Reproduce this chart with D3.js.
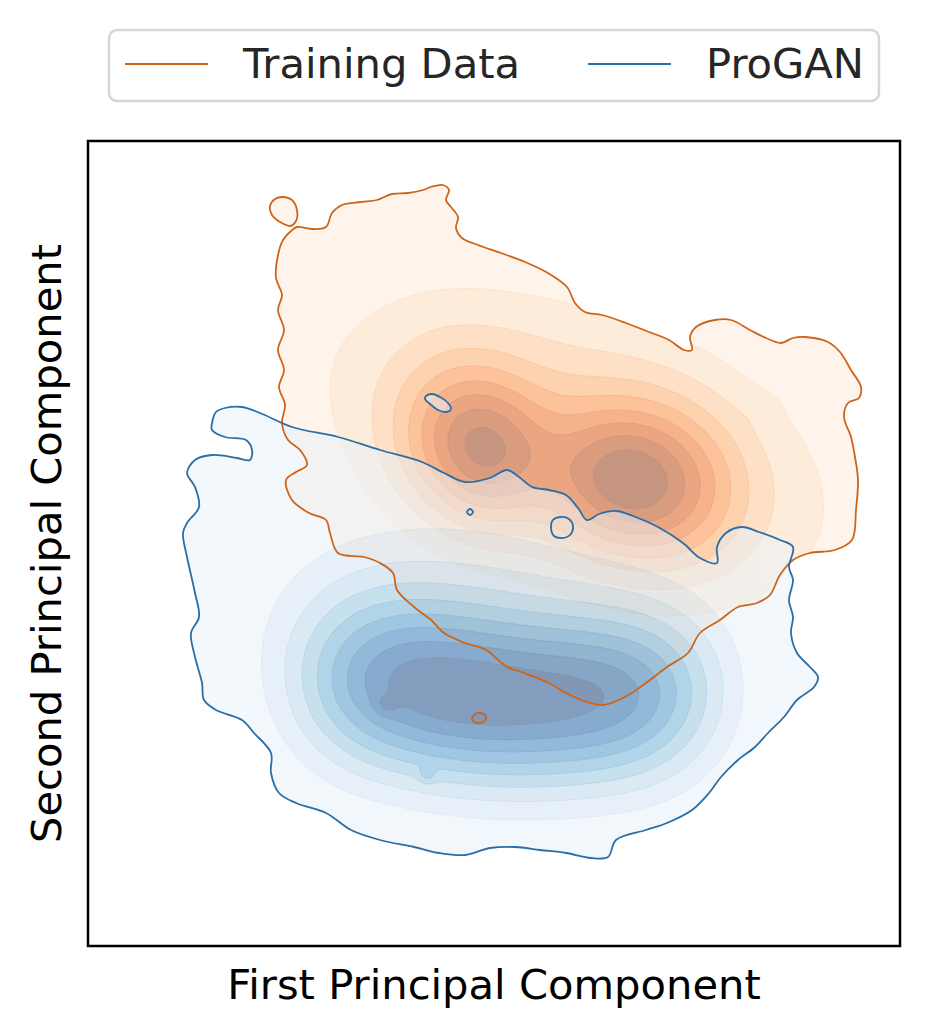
<!DOCTYPE html>
<html><head><meta charset="utf-8">
<script src="https://cdn.jsdelivr.net/npm/d3@7"></script>
<style>body{margin:0;background:#fff}svg{display:block}</style>
</head><body>
<script>
// ---------------- data ----------------
const seriesNames = ["Training Data", "ProGAN"];
const xLabel = "First Principal Component";
const yLabel = "Second Principal Component";
// iso-proportion levels (level 1 = outer outline)
const isoLevels = [0.05, 0.156, 0.261, 0.367, 0.472, 0.578, 0.683, 0.789, 0.894];

// outer density contour (threshold level), in PC units
const trainOutline = [[2.09,7.19],[2.24,7.17],[2.38,7.19],[2.44,7.33],[2.54,7.41],[2.73,7.44],[2.89,7.46],[3.04,7.52],[3.20,7.53],[3.35,7.56],[3.43,7.59],[3.55,7.61],[3.61,7.56],[3.58,7.46],[3.63,7.39],[3.70,7.29],[3.68,7.18],[3.74,7.08],[3.90,7.01],[4.13,6.93],[4.37,6.84],[4.60,6.73],[4.79,6.59],[4.87,6.43],[4.97,6.34],[5.14,6.31],[5.38,6.23],[5.61,6.14],[5.81,6.06],[5.96,5.96],[6.04,5.96],[6.02,6.09],[6.08,6.19],[6.27,6.26],[6.43,6.26],[6.62,6.16],[6.78,6.08],[6.93,6.03],[7.05,6.08],[7.17,6.09],[7.40,6.04],[7.52,5.94],[7.63,5.76],[7.73,5.59],[7.71,5.48],[7.60,5.43],[7.56,5.29],[7.63,5.09],[7.67,4.89],[7.70,4.66],[7.68,4.36],[7.64,4.06],[7.47,3.96],[7.22,3.93],[7.05,3.86],[6.92,3.71],[6.82,3.51],[6.69,3.43],[6.50,3.39],[6.32,3.26],[6.12,3.13],[6.00,2.93],[5.79,2.79],[5.58,2.63],[5.37,2.49],[5.15,2.41],[4.99,2.44],[4.78,2.53],[4.61,2.63],[4.36,2.73],[4.19,2.79],[3.98,2.96],[3.77,3.03],[3.56,3.13],[3.43,3.26],[3.26,3.39],[3.09,3.56],[3.05,3.73],[2.92,3.83],[2.76,3.89],[2.50,3.93],[2.42,4.13],[2.38,4.26],[2.21,4.33],[2.04,4.46],[1.98,4.66],[2.08,4.74],[2.19,4.81],[2.12,4.96],[2.00,5.06],[1.94,5.23],[1.97,5.41],[1.91,5.59],[1.96,5.76],[1.90,5.96],[1.96,6.16],[1.90,6.36],[1.94,6.51],[1.88,6.68],[1.90,6.91],[1.95,7.06],[2.03,7.15]];
const trainIslands = [
  [[1.95,7.49],[2.04,7.46],[2.09,7.36],[2.08,7.25],[2.02,7.20],[1.92,7.24],[1.84,7.31],[1.82,7.40],[1.87,7.47]],
  [[3.84,2.28],[3.87,2.32],[3.92,2.33],[3.97,2.31],[3.98,2.27],[3.95,2.24],[3.89,2.23],[3.85,2.25]]
];
const ganOutline = [[1.24,5.23],[1.28,5.34],[1.37,5.38],[1.54,5.39],[1.72,5.33],[2.04,5.19],[2.50,5.09],[2.92,4.96],[3.34,4.84],[3.56,4.73],[3.77,4.64],[4.02,4.68],[4.19,4.76],[4.31,4.69],[4.44,4.59],[4.61,4.56],[4.78,4.51],[4.90,4.38],[4.99,4.26],[5.11,4.32],[5.28,4.35],[5.45,4.30],[5.70,4.19],[5.95,4.03],[6.12,3.88],[6.29,3.83],[6.29,3.99],[6.38,4.13],[6.54,4.19],[6.71,4.14],[6.92,4.06],[7.05,3.99],[7.01,3.79],[7.05,3.66],[7.01,3.46],[7.05,3.29],[7.03,3.13],[7.09,2.93],[7.22,2.79],[7.30,2.69],[7.26,2.59],[7.09,2.46],[6.96,2.29],[6.80,2.13],[6.67,1.99],[6.50,1.86],[6.33,1.69],[6.21,1.53],[6.04,1.36],[5.79,1.23],[5.58,1.16],[5.28,1.06],[5.20,0.89],[5.03,0.88],[4.78,0.93],[4.52,0.96],[4.27,0.99],[4.02,0.98],[3.77,0.91],[3.51,0.93],[3.26,0.99],[2.92,1.06],[2.63,1.16],[2.38,1.33],[2.08,1.43],[1.91,1.53],[1.83,1.73],[1.83,1.93],[1.66,2.13],[1.54,2.26],[1.28,2.36],[1.16,2.46],[1.14,2.63],[1.07,2.89],[1.03,3.13],[1.11,3.29],[1.07,3.53],[0.99,3.89],[0.95,4.13],[0.99,4.23],[1.11,4.39],[1.07,4.59],[0.99,4.73],[1.07,4.86],[1.24,4.91],[1.49,4.88],[1.62,4.86],[1.64,4.96],[1.58,5.06],[1.37,5.09],[1.24,5.16]];
const ganIslands = [
  [[3.38,5.50],[3.44,5.52],[3.52,5.49],[3.60,5.43],[3.63,5.37],[3.58,5.34],[3.50,5.36],[3.42,5.42],[3.37,5.47]],
  [[3.79,4.34],[3.82,4.37],[3.85,4.34],[3.82,4.31]],
  [[4.63,4.18],[4.65,4.26],[4.73,4.29],[4.81,4.27],[4.85,4.20],[4.82,4.11],[4.74,4.08],[4.66,4.10]]
];

// density modes: [cx, cy, sx, sy, rotationDeg, weight]
const trainModes = [
  [3.60, 5.15, 0.45, 0.55, 0, 0.75],
  [4.02, 4.90, 0.42, 0.50, 0, 1.25],
  [4.55, 4.82, 0.40, 0.50, 0, 0.08],
  [5.18, 4.66, 0.45, 0.50, 0, 1.10],
  [5.65, 4.62, 0.45, 0.55, 0, 0.85],
  [6.10, 4.52, 0.45, 0.55, 0, 0.50],
  [4.90, 5.00, 1.90, 1.00, -20, 1.10],
  [6.74, 5.38, 0.12, 0.10, 0, 0.12]
];
const ganModes = [
  [2.55, 2.62, 0.50, 0.62, 0, 0.80],
  [3.05, 2.60, 0.50, 0.62, 0, 0.95],
  [3.55, 2.50, 0.50, 0.62, 0, 1.00],
  [4.05, 2.42, 0.50, 0.62, 0, 1.00],
  [4.55, 2.42, 0.50, 0.62, 0, 0.95],
  [5.05, 2.45, 0.50, 0.62, 0, 1.00],
  [5.55, 2.48, 0.50, 0.62, 0, 0.90],
  [5.95, 2.55, 0.50, 0.62, 0, 0.55],
  [3.60, 3.30, 1.40, 0.90, 0, 0.60],
  [3.39, 1.71, 0.06, 0.06, 0, 0.35],
  [2.98, 2.41, 0.08, 0.07, 0, 0.30]
];

const lineColors = ["#cf6419", "#2a6ea6"];

// ---------------- layout ----------------
const W = 930, H = 1035;
const m = {left: 88, right: 900, top: 141, bottom: 946};
const xDomain = [0, 8.12], yDomain = [0, 8.05];
const x = d3.scaleLinear().domain(xDomain).range([m.left, m.right]);
const y = d3.scaleLinear().domain(yDomain).range([m.bottom, m.top]);

const svg = d3.select("body").append("svg").attr("width", W).attr("height", H)
  .style("font-family", "'DejaVu Sans', sans-serif");

const defs = svg.append("defs");
const closedLine = d3.line().x(d => x(d[0])).y(d => y(d[1])).curve(d3.curveCatmullRomClosed.alpha(0.5));

// grid density
const step = 0.02;
const nx = Math.round((xDomain[1]-xDomain[0])/step), ny = Math.round((yDomain[1]-yDomain[0])/step);
function density(modes) {
  const v = new Float64Array(nx*ny);
  const pre = modes.map(([cx,cy,sx,sy,r,w]) => ({cx,cy,sx,sy,w,c:Math.cos(r*Math.PI/180),s:Math.sin(r*Math.PI/180)}));
  let mx = 0;
  for (let j=0;j<ny;j++){
    const py = yDomain[0] + (j+0.5)*step;
    for (let i=0;i<nx;i++){
      const px = xDomain[0] + (i+0.5)*step;
      let d = 0;
      for (const p of pre){
        const dx = px-p.cx, dy = py-p.cy;
        const u = dx*p.c + dy*p.s, q = -dx*p.s + dy*p.c;
        d += p.w*Math.exp(-0.5*(u*u/(p.sx*p.sx) + q*q/(p.sy*p.sy)));
      }
      v[i+j*nx] = d; if (d>mx) mx=d;
    }
  }
  for (let k=0;k<v.length;k++) v[k]/=mx;
  return v;
}
const gridPath = d3.geoPath(d3.geoTransform({
  point(px, py){ this.stream.point(x(xDomain[0]+px*step), y(yDomain[0]+py*step)); }
}));

const tVals = d3.range(isoLevels.length).map(i => 0.08 + i*(0.95-0.08)/(isoLevels.length-1));

const series = [
  {outline: trainOutline, islands: trainIslands, modes: trainModes, interp: d3.interpolateOranges},
  {outline: ganOutline, islands: ganIslands, modes: ganModes, interp: d3.interpolateBlues}
];

// filled bands
series.forEach((s, idx) => {
  const polys = [s.outline, ...s.islands];
  const id = "clip"+idx;
  const cp = defs.append("clipPath").attr("id", id);
  polys.forEach(poly => cp.append("path").attr("d", closedLine(poly)));
  const g = svg.append("g").attr("opacity", 0.5);
  polys.forEach(poly => g.append("path").attr("d", closedLine(poly)).attr("fill", s.interp(tVals[0])));
  const inner = g.append("g").attr("clip-path", `url(#${id})`);
  const contours = d3.contours().size([nx, ny]).thresholds(isoLevels.slice(1))(density(s.modes));
  contours.forEach((c, k) => {
    inner.append("path").attr("d", gridPath(c))
      .attr("fill", s.interp(tVals[k+1]))
      .attr("stroke", s.interp(Math.min(1, tVals[k+1]+0.12)))
      .attr("stroke-width", 0.7);
  });
});
// threshold outlines
series.forEach((s, idx) => {
  const lg = svg.append("g");
  [s.outline, ...s.islands].forEach(poly =>
    lg.append("path").attr("d", closedLine(poly)).attr("fill", "none")
      .attr("stroke", lineColors[idx]).attr("stroke-width", 1.8));
});

// frame
svg.append("rect").attr("x", m.left).attr("y", m.top)
  .attr("width", m.right-m.left).attr("height", m.bottom-m.top)
  .attr("fill", "none").attr("stroke", "#000").attr("stroke-width", 2.5);

// axis labels
svg.append("text").attr("x", (m.left+m.right)/2).attr("y", 999)
  .attr("text-anchor", "middle").attr("font-size", 41.67).attr("fill", "#000").text(xLabel);
svg.append("text").attr("transform", `translate(61,${(m.top+m.bottom)/2}) rotate(-90)`)
  .attr("text-anchor", "middle").attr("font-size", 41.67).attr("fill", "#000").text(yLabel);

// legend
const leg = svg.append("g");
leg.append("rect").attr("x", 109).attr("y", 30).attr("width", 770).attr("height", 71)
  .attr("rx", 8).attr("fill", "#fff").attr("stroke", "#d6d6d6").attr("stroke-width", 2.5);
const legX = [125, 588];
seriesNames.forEach((n, i) => {
  leg.append("line").attr("x1", legX[i]).attr("x2", legX[i]+83).attr("y1", 64).attr("y2", 64)
    .attr("stroke", lineColors[i]).attr("stroke-width", 1.8);
  leg.append("text").attr("x", legX[i]+118).attr("y", 78).attr("font-size", 41.67)
    .attr("fill", "#262626").text(n);
});
</script>
</body></html>
